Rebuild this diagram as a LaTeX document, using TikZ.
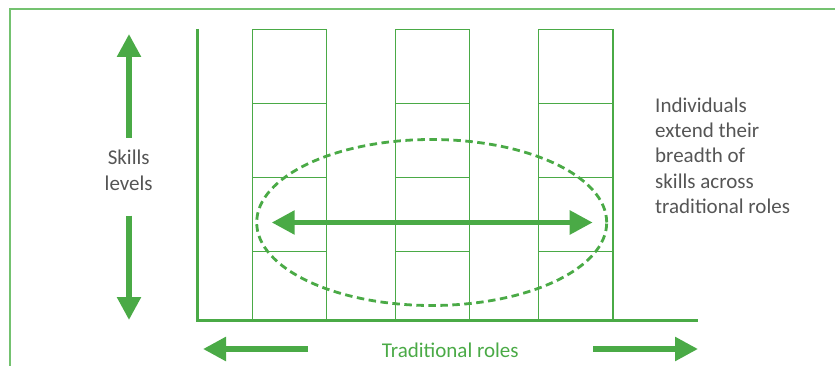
\documentclass[tikz,border=0pt]{standalone}
\usepackage{fontspec}
\setmainfont{Carlito}
\usetikzlibrary{arrows.meta}
\definecolor{leaf}{HTML}{4AAA46}
\definecolor{paleleaf}{HTML}{74C270}
\definecolor{ink}{HTML}{555555}
\tikzset{
  frameline/.style={draw=paleleaf, line width=2pt},
  axisline/.style={draw=leaf, line width=2.5pt},
  cell/.style={draw=leaf, line width=1.3pt, rectangle, minimum width=74.5pt, inner sep=0pt, outer sep=0pt},
  bigarrow/.style={draw=leaf, line width=5.5pt, -{Triangle[length=23pt,width=23pt]}},
  bothways/.style={draw=leaf, line width=5.5pt, {Triangle[length=23pt,width=23pt]}-{Triangle[length=23pt,width=23pt]}},
  spread/.style={draw=leaf, line width=2.8pt, dash pattern=on 7.5pt off 4.5pt},
  label/.style={font=\fontsize{21}{25.3}\selectfont, text=ink, inner sep=0pt, align=left},
}
\begin{document}
\begin{tikzpicture}[x=1pt,y=-1pt]
  \useasboundingbox (0,0) rectangle (835,366);

  % outer frame (top and left edges)
  \draw[frameline] (9.5,366) -- (9.5,9.5) -- (835,9.5);

  % three columns of four skill cells each (row: top/bottom edges)
  \foreach \c/\x in {1/289.5, 2/432.5, 3/575.7} {
    \foreach \r/\t/\b in {1/29.7/103.7, 2/103.7/177.7, 3/177.7/251.3, 4/251.3/320} {
      \node[cell, minimum height={(\b-\t)*1pt}] (cell-\c-\r) at (\x, {(\t+\b)/2}) {};
    }
  }

  % axes
  \coordinate (axtop) at (197.7,29);
  \coordinate (axcorner) at (197.7,320.5);
  \coordinate (axend) at (698,320.5);
  \draw[axisline] (axtop) -- (axcorner) -- (axend);

  % spread of skills across roles
  \draw[spread] (431.7,222.5) ellipse [x radius=175pt, y radius=83pt];
  \coordinate (spanL) at (271.7,222.5);
  \coordinate (spanR) at (592.7,222.5);
  \draw[bothways] (spanL) -- (spanR);

  % vertical skill-level arrows
  \coordinate (upS) at (129,138);
  \coordinate (upE) at (129,34);
  \coordinate (dnS) at (129,215.7);
  \coordinate (dnE) at (129,320);
  \draw[bigarrow] (upS) -- (upE);
  \draw[bigarrow] (dnS) -- (dnE);
  \node[label, align=center, anchor=north] (skills) at (128.7,150.2) {Skills\\levels};

  % horizontal role arrows
  \coordinate (lfS) at (308,349);
  \coordinate (lfE) at (203,349);
  \coordinate (rtS) at (593,349);
  \coordinate (rtE) at (698,349);
  \draw[bigarrow] (lfS) -- (lfE);
  \draw[bigarrow] (rtS) -- (rtE);
  \node[label, text=leaf, anchor=base] (roles) at (450.3,357.8) {Traditional roles};

  % explanatory note
  \node[label, anchor=north west] (note) at (655,97.4)
    {Individuals\\extend their\\breadth of\\skills across\\traditional roles};
\end{tikzpicture}
\end{document}
